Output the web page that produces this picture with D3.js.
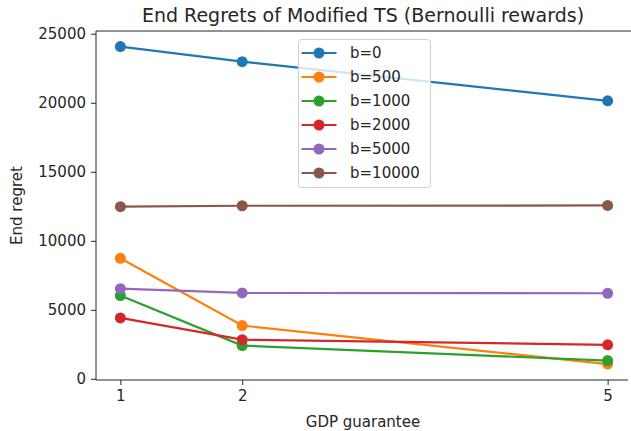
<!DOCTYPE html>
<html>
<head>
<meta charset="utf-8">
<script src="https://cdn.jsdelivr.net/npm/d3@7"></script>
<style>
    body { margin: 0; background: #fff; }
    text { font-family: "DejaVu Sans", sans-serif; fill: #262626; }
</style>
</head>
<body>
<div class="chart-container"></div>
<script>
// Data.
const guarantees = [1, 2, 5];
const seriesNames = ['b=0', 'b=500', 'b=1000', 'b=2000', 'b=5000', 'b=10000'];
const seriesColors = ['#1f77b4', '#ff7f0e', '#2ca02c', '#d62728', '#9467bd', '#8c564b'];
const regretB0 = [24070, 22980, 20140];
const regretB500 = [8730, 3860, 1070];
const regretB1000 = [6030, 2410, 1320];
const regretB2000 = [4410, 2840, 2460];
const regretB5000 = [6530, 6220, 6200];
const regretB10000 = [12470, 12540, 12560];
const yTicks = [0, 5000, 10000, 15000, 20000, 25000];

const seriesValues = [regretB0, regretB500, regretB1000, regretB2000, regretB5000, regretB10000];

const width = 631;
const height = 431;
const area = {left: 96, right: 632, top: 31, bottom: 380};
const FONT = '15px';

const svg = d3.select('.chart-container')
    .append('svg')
    .attr('width', width)
    .attr('height', height);

// Scales (matplotlib style 5% margins)
const xScale = d3.scaleLinear()
    .domain([0.8, 5.2])
    .range([area.left, area.right]);

const yScale = d3.scaleLinear()
    .domain([-85, 25200])
    .range([area.bottom, area.top]);

// Axes
const axisX = d3.axisBottom(xScale)
    .tickValues(guarantees)
    .tickSize(5)
    .tickPadding(5)
    .tickFormat(d3.format('d'));

const axisY = d3.axisLeft(yScale)
    .tickValues(yTicks)
    .tickSize(5)
    .tickPadding(5)
    .tickFormat(d3.format('d'));

const gx = svg.append('g')
    .attr('transform', `translate(0, ${area.bottom})`)
    .call(axisX);
gx.select('.domain').remove();
gx.selectAll('text').style('font-size', FONT).attr('fill', '#262626');
gx.selectAll('line').attr('stroke', '#262626').attr('stroke-width', 1);

const gy = svg.append('g')
    .attr('transform', `translate(${area.left}, 0)`)
    .call(axisY);
gy.select('.domain').remove();
gy.selectAll('text').style('font-size', FONT).attr('fill', '#262626');
gy.selectAll('line').attr('stroke', '#262626').attr('stroke-width', 1);

// Frame (the picture is cropped before the right spine)
svg.append('path')
    .attr('d', `M${width},${area.top}H${area.left}V${area.bottom}H${area.right - 4}`)
    .style('fill', 'none')
    .attr('stroke', '#262626')
    .attr('stroke-width', 1);

// Lines and markers
const lineGenerator = d3.line()
    .x((d, i) => xScale(guarantees[i]))
    .y(d => yScale(d));

seriesValues.forEach((values, s) => {
    const g = svg.append('g');
    g.append('path')
        .attr('d', lineGenerator(values))
        .style('fill', 'none')
        .attr('stroke', seriesColors[s])
        .attr('stroke-width', 2.2);
    g.selectAll('circle')
        .data(values)
        .enter()
        .append('circle')
        .attr('cx', (d, i) => xScale(guarantees[i]))
        .attr('cy', d => yScale(d))
        .attr('r', 5.5)
        .style('fill', seriesColors[s]);
});

// Legend
const legend = svg.append('g')
    .attr('transform', 'translate(298.5, 39.5)');

legend.append('rect')
    .attr('width', 132)
    .attr('height', 148)
    .attr('rx', 3)
    .style('fill', 'rgba(255,255,255,0.8)')
    .attr('stroke', '#d0d0d0')
    .attr('stroke-width', 1);

seriesNames.forEach((name, i) => {
    const row = legend.append('g')
        .attr('transform', `translate(0, ${13.5 + i * 24})`);
    row.append('line')
        .attr('x1', 3)
        .attr('x2', 38)
        .attr('stroke', seriesColors[i])
        .attr('stroke-width', 2.2);
    row.append('circle')
        .attr('cx', 20.5)
        .attr('r', 5.5)
        .style('fill', seriesColors[i]);
    row.append('text')
        .attr('x', 51.5)
        .attr('dy', '0.35em')
        .style('font-size', FONT)
        .text(name);
});

// Title and axis labels
svg.append('text')
    .attr('x', 363)
    .attr('y', 22)
    .attr('text-anchor', 'middle')
    .style('font-size', '19px')
    .text('End Regrets of Modified TS (Bernoulli rewards)');

svg.append('text')
    .attr('x', 363)
    .attr('y', 426.5)
    .attr('text-anchor', 'middle')
    .style('font-size', FONT)
    .text('GDP guarantee');

svg.append('text')
    .attr('transform', `translate(22, ${(area.top + area.bottom) / 2}) rotate(-90)`)
    .attr('text-anchor', 'middle')
    .style('font-size', FONT)
    .text('End regret');
</script>
</body>
</html>
